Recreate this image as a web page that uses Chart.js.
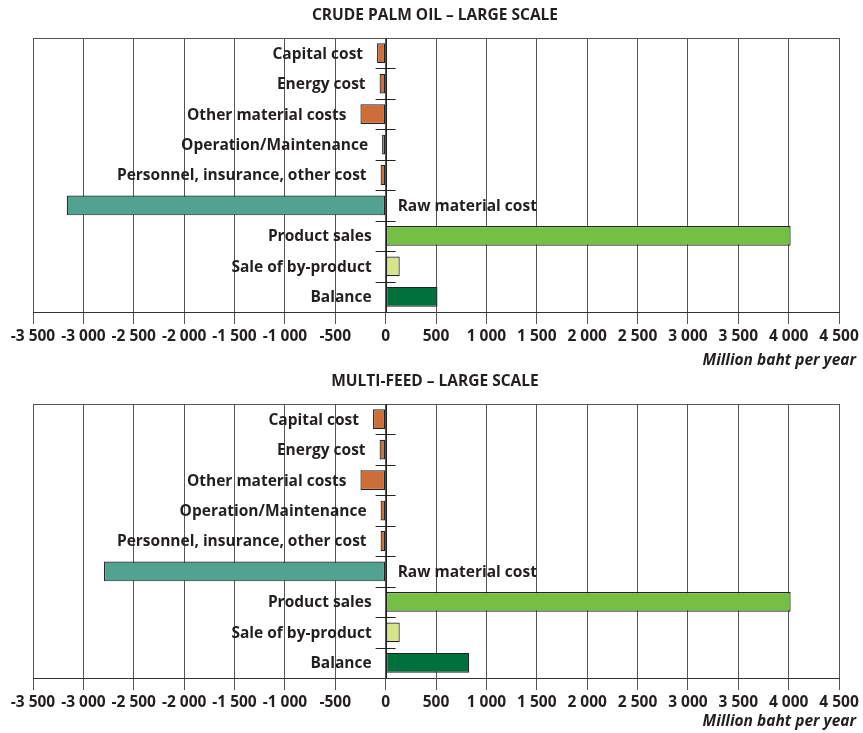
<!DOCTYPE html>
<html>
<head>
<meta charset="utf-8">
<script src="https://cdn.jsdelivr.net/npm/chart.js@4/dist/chart.umd.min.js"></script>
<style>
  html, body { margin: 0; padding: 0; background: #ffffff; }
  canvas { display: block; }
  #multiFeed { margin-top: -6px; }
</style>
</head>
<body>
<canvas id="palmOil" width="863" height="372"></canvas>
<canvas id="multiFeed" width="863" height="367"></canvas>
<script>
// Cost and revenue items, million baht per year
const categories = [
  'Capital cost',
  'Energy cost',
  'Other material costs',
  'Operation/Maintenance',
  'Personnel, insurance, other cost',
  'Raw material cost',
  'Product sales',
  'Sale of by-product',
  'Balance'
];
const palmOilValues   = [-85, -60, -250, -35, -50, -3165, 4020, 140, 515];
const multiFeedValues = [-125, -60, -250, -50, -50, -2795, 4020, 140, 830];

const xMin = -3500;
const xMax = 4500;
const xStep = 500;

const palmOilTitle = 'CRUDE PALM OIL \u2013 LARGE SCALE';
const multiFeedTitle = 'MULTI-FEED \u2013 LARGE SCALE';
const axisTitle = 'Million baht per year';

const barColors = ['#CD6D38', '#CD6D38', '#CD6D38', '#CD6D38', '#CD6D38',
                   '#51A38F', '#74BF44', '#D6E48A', '#00703C'];

const FONT = '"Open Sans", "Noto Sans", sans-serif';
const FONT_SIZE = 15.5;
const TEXT = '#231f20';
const GRID = '#555555';

function formatTick(v) {
  const s = Math.abs(v).toString().replace(/\B(?=(\d{3})+(?!\d))/g, ' ');
  return (v < 0 ? '-' : '') + s;
}

// Frame, zero-axis ticks, category labels and titles
const decorations = {
  id: 'decorations',
  afterDatasetsDraw(chart, args, opts) {
    const ctx = chart.ctx;
    const area = chart.chartArea;
    const xs = chart.scales.x;
    const ys = chart.scales.y;
    const x0 = xs.getPixelForValue(0);

    ctx.save();
    // top frame line
    ctx.strokeStyle = GRID;
    ctx.lineWidth = 1;
    ctx.beginPath();
    ctx.moveTo(area.left, Math.round(area.top) + 0.5);
    ctx.lineTo(area.right, Math.round(area.top) + 0.5);
    ctx.stroke();

    // zero line with short ticks between categories
    ctx.strokeStyle = '#222';
    ctx.beginPath();
    ctx.moveTo(Math.round(x0) + 0.5, area.top);
    ctx.lineTo(Math.round(x0) + 0.5, area.bottom);
    for (let i = 0; i < categories.length - 1; i++) {
      const yb = Math.round((ys.getPixelForValue(i) + ys.getPixelForValue(i + 1)) / 2) + 0.5;
      ctx.moveTo(x0 - 10, yb);
      ctx.lineTo(x0 + 10, yb);
    }
    ctx.stroke();

    // category labels beside each bar
    ctx.font = 'bold ' + FONT_SIZE + 'px ' + FONT;
    ctx.fillStyle = TEXT;
    ctx.textBaseline = 'middle';
    const meta = chart.getDatasetMeta(0);
    meta.data.forEach((bar, i) => {
      const label = categories[i];
      const w = ctx.measureText(label).width;
      const leftEnd = Math.min(bar.x, bar.base, x0);
      const y = bar.y + 1;
      if (leftEnd - 14 - w >= area.left) {
        ctx.textAlign = 'right';
        ctx.fillText(label, leftEnd - 14, y);
      } else {
        ctx.textAlign = 'left';
        ctx.fillText(label, x0 + 12, y);
      }
    });

    // chart title
    ctx.textAlign = 'center';
    ctx.fillText(opts.title, (area.left + area.right) / 2 - 1, 16);

    // axis title
    ctx.font = 'italic bold ' + FONT_SIZE + 'px ' + FONT;
    ctx.textAlign = 'right';
    ctx.fillText(axisTitle, 856, opts.axisTitleY);
    ctx.restore();
  }
};

function buildChart(id, values, title, axisHeight, axisTitleY) {
  return new Chart(document.getElementById(id), {
    type: 'bar',
    data: {
      labels: categories,
      datasets: [{
        data: values,
        backgroundColor: barColors,
        borderColor: '#222222',
        borderWidth: 1.2,
        borderSkipped: false,
        barPercentage: 0.65,
        categoryPercentage: 1
      }]
    },
    options: {
      responsive: false,
      animation: false,
      indexAxis: 'y',
      layout: { padding: { top: 38, left: 33, right: 24, bottom: 0 } },
      plugins: {
        legend: { display: false },
        tooltip: { enabled: false },
        title: { display: false },
        decorations: { title: title, axisTitleY: axisTitleY }
      },
      scales: {
        x: {
          type: 'linear',
          min: xMin,
          max: xMax,
          ticks: {
            stepSize: xStep,
            autoSkip: false,
            maxRotation: 0,
            padding: 3,
            color: TEXT,
            font: { family: FONT, weight: 'bold', size: FONT_SIZE },
            callback: (v) => formatTick(v)
          },
          grid: { color: GRID, lineWidth: 1, tickLength: 12, tickColor: GRID },
          border: { display: true, color: '#333' },
          afterFit(scale) { scale.height = axisHeight; }
        },
        y: { display: false }
      }
    },
    plugins: [decorations]
  });
}

buildChart('palmOil', palmOilValues, palmOilTitle, 60, 361);
buildChart('multiFeed', multiFeedValues, multiFeedTitle, 55, 356);
</script>
</body>
</html>
